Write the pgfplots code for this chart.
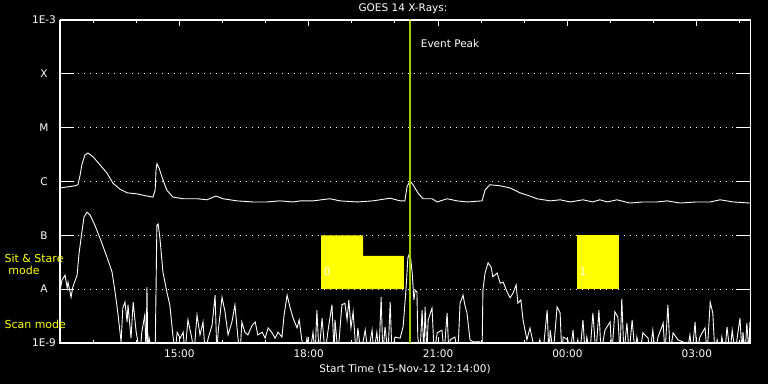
\documentclass[border=0pt]{standalone}
\usepackage{fontspec}
\setmainfont{DejaVu Sans}
\usepackage{pgfplots}
\pgfplotsset{compat=1.18}
\definecolor{peak}{RGB}{155,205,0}
\definecolor{ylw}{RGB}{255,255,0}
\begin{document}
\begin{tikzpicture}
\fill[black] (0,0) rectangle (768bp,384bp);
\begin{axis}[
  scale only axis, width=690bp, height=323bp,
  at={(60bp,41bp)}, anchor=south west,
  xmin=12.2333, xmax=28.2333, ymin=-9, ymax=-3,
  axis line style={white, line width=1bp},
  xtick={15,18,21,24,27}, xticklabels={15:00,18:00,21:00,00:00,03:00},
  minor xtick={13,14,16,17,19,20,22,23,25,26,28},
  ytick={-9,-8,-7,-6,-5,-4,-3}, yticklabels={},
  tick align=inside,
  major tick length=6bp, minor tick length=3bp,
  tick style={white, line width=1bp},
  ymajorgrids, grid style={white, line width=1bp, dash pattern=on 1bp off 5bp},
  tick label style={white, font=\fontsize{10.5bp}{12bp}\selectfont},
  xticklabel style={yshift=-3bp},
  clip=true,
]
% Sit & Stare mode blocks
\addplot[fill=ylw, draw=none] coordinates {(18.29,-8) (18.29,-7) (19.26,-7) (19.26,-7.38) (20.21,-7.38) (20.21,-8)} --cycle;
\addplot[fill=ylw, draw=none] coordinates {(24.22,-8) (24.22,-7) (25.20,-7) (25.20,-8)} --cycle;
\node[white, font=\fontsize{10.5bp}{12bp}\selectfont] at (axis cs:18.43,-7.68) {0};
\node[white, font=\fontsize{10.5bp}{12bp}\selectfont] at (axis cs:24.36,-7.68) {1};
% long channel (1-8 A)
\addplot[white, line width=0.9bp] coordinates {
(12.23,-6.12) (12.58,-6.08) (12.65,-6.06) (12.70,-5.88) (12.74,-5.69) (12.81,-5.51) (12.88,-5.47)
(13.00,-5.54) (13.16,-5.69) (13.32,-5.84) (13.46,-6.03) (13.62,-6.14) (13.79,-6.21) (14.02,-6.23)
(14.25,-6.27) (14.39,-6.29) (14.44,-6.16) (14.46,-5.79) (14.48,-5.67) (14.53,-5.75) (14.60,-5.92)
(14.71,-6.16) (14.85,-6.29) (15.09,-6.32) (15.41,-6.32) (15.64,-6.34) (15.85,-6.27) (16.01,-6.32)
(16.34,-6.36) (16.71,-6.38) (17.03,-6.38) (17.33,-6.36) (17.64,-6.38) (17.80,-6.36) (18.10,-6.36)
(18.49,-6.32) (18.73,-6.36) (19.12,-6.38) (19.49,-6.36) (19.89,-6.31) (20.12,-6.36) (20.23,-6.36)
(20.28,-6.10) (20.35,-5.99) (20.42,-6.06) (20.53,-6.21) (20.65,-6.32) (20.86,-6.32) (20.98,-6.38)
(21.21,-6.32) (21.44,-6.36) (21.67,-6.38) (22.02,-6.36) (22.09,-6.16) (22.20,-6.06) (22.44,-6.08)
(22.67,-6.12) (22.90,-6.21) (23.13,-6.27) (23.29,-6.32) (23.60,-6.36) (23.83,-6.34) (24.06,-6.38)
(24.36,-6.34) (24.59,-6.38) (24.75,-6.34) (24.92,-6.38) (25.15,-6.34) (25.45,-6.40) (25.75,-6.38)
(26.08,-6.38) (26.31,-6.36) (26.61,-6.40) (27.00,-6.38) (27.31,-6.38) (27.54,-6.34) (27.84,-6.38)
(28.23,-6.40)
};
% short channel (0.5-4 A)
\addplot[white, line width=0.9bp] coordinates {
(12.23,-8.05) (12.28,-7.83) (12.35,-7.74) (12.40,-7.98) (12.42,-7.87) (12.49,-8.15) (12.53,-7.96)
(12.63,-7.74) (12.67,-7.37) (12.74,-6.94) (12.79,-6.66) (12.86,-6.57) (12.93,-6.62) (13.04,-6.81)
(13.16,-7.05) (13.32,-7.40) (13.44,-7.68) (13.51,-8.05) (13.55,-8.29) (13.58,-8.48) (13.65,-8.98)
(13.69,-8.35) (13.74,-8.24) (13.79,-8.61) (13.81,-8.29) (13.88,-8.91) (13.93,-8.24) (14.00,-8.80)
(14.04,-8.98) (14.09,-9.2) (14.13,-8.80) (14.20,-8.48) (14.23,-9.2) (14.25,-7.96) (14.27,-9.2)
(14.30,-8.91) (14.37,-9.2) (14.44,-9.2) (14.48,-6.81) (14.51,-6.79) (14.55,-7.05) (14.62,-7.68)
(14.71,-8.05) (14.78,-8.29) (14.85,-8.85) (14.90,-9.2) (14.95,-8.80) (15.02,-8.91) (15.09,-8.80)
(15.13,-9.2) (15.20,-8.57) (15.29,-8.91) (15.34,-9.2) (15.41,-8.48) (15.48,-8.85) (15.55,-8.61)
(15.60,-9.2) (15.67,-8.91) (15.76,-8.67) (15.83,-8.11) (15.87,-9.2) (15.90,-8.80) (15.99,-8.15)
(16.06,-8.42) (16.13,-8.85) (16.22,-8.61) (16.29,-8.29) (16.36,-8.91) (16.41,-9.2) (16.45,-8.61)
(16.52,-8.80) (16.59,-8.85) (16.69,-8.67) (16.76,-8.61) (16.82,-8.85) (16.92,-8.80) (16.99,-8.91)
(17.06,-8.72) (17.15,-8.81) (17.22,-8.91) (17.29,-8.80) (17.38,-8.89) (17.43,-8.48) (17.50,-8.11)
(17.57,-8.35) (17.64,-8.54) (17.73,-8.72) (17.78,-8.57) (17.84,-8.94) (17.91,-9.2) (17.96,-8.91)
(18.03,-9.2) (18.10,-8.80) (18.15,-9.2) (18.19,-8.39) (18.24,-9.2) (18.31,-8.54) (18.38,-9.2)
(18.45,-8.76) (18.54,-8.29) (18.59,-9.2) (18.61,-8.57) (18.68,-9.2) (18.77,-8.29) (18.84,-8.26)
(18.89,-8.57) (18.93,-8.20) (18.98,-8.72) (19.03,-8.42) (19.10,-9.2) (19.14,-8.72) (19.21,-9.2)
(19.31,-8.76) (19.38,-9.2) (19.47,-8.76) (19.51,-9.2) (19.58,-8.80) (19.63,-9.2) (19.68,-8.15)
(19.72,-9.2) (19.77,-8.70) (19.84,-9.2) (19.89,-8.24) (19.93,-9.2) (20.00,-8.89) (20.12,-8.91)
(20.19,-8.70) (20.26,-7.96) (20.30,-7.42) (20.35,-7.31) (20.40,-7.70) (20.44,-8.20) (20.47,-8.02)
(20.51,-8.05) (20.53,-8.89) (20.58,-9.2) (20.63,-8.39) (20.67,-9.2) (20.70,-8.33) (20.74,-9.2)
(20.77,-8.57) (20.86,-8.35) (20.91,-9.2) (20.98,-8.81) (21.09,-8.76) (21.14,-9.2) (21.21,-8.44)
(21.25,-9.2) (21.28,-8.94) (21.39,-8.89) (21.46,-9.2) (21.51,-8.26) (21.58,-8.11) (21.62,-8.29)
(21.67,-8.44) (21.74,-8.94) (21.81,-8.98) (21.97,-8.98) (22.02,-9.2) (22.04,-8.02) (22.09,-7.70)
(22.16,-7.51) (22.23,-7.59) (22.27,-7.77) (22.37,-7.70) (22.44,-7.89) (22.51,-7.87) (22.60,-8.05)
(22.67,-8.16) (22.74,-8.07) (22.81,-7.92) (22.85,-8.26) (22.92,-8.20) (22.97,-8.57) (23.06,-8.94)
(23.13,-8.72) (23.20,-8.98) (23.27,-9.2) (23.36,-8.94) (23.43,-9.2) (23.53,-8.39) (23.57,-9.2)
(23.60,-8.76) (23.67,-9.2) (23.76,-8.33) (23.83,-8.44) (23.87,-9.2) (23.90,-8.89) (24.01,-8.94)
(24.06,-9.2) (24.13,-8.76) (24.17,-9.2) (24.24,-8.94) (24.29,-9.2) (24.36,-8.57) (24.41,-9.2)
(24.45,-8.89) (24.52,-9.2) (24.59,-8.44) (24.66,-9.2) (24.73,-8.39) (24.78,-9.2) (24.87,-8.76)
(24.99,-8.61) (25.03,-9.2) (25.10,-8.42) (25.17,-8.52) (25.22,-9.2) (25.26,-8.18) (25.31,-9.2)
(25.38,-8.63) (25.43,-9.2) (25.50,-8.57) (25.57,-9.2) (25.61,-8.89) (25.68,-9.2) (25.75,-8.81)
(25.87,-8.91) (25.91,-9.2) (25.98,-8.76) (26.03,-9.2) (26.10,-8.89) (26.22,-8.63) (26.26,-9.2)
(26.33,-8.29) (26.38,-9.2) (26.45,-8.81) (26.56,-8.94) (26.68,-8.98) (26.77,-9.2) (26.84,-8.85)
(26.89,-9.2) (26.96,-8.61) (27.00,-9.2) (27.07,-8.89) (27.19,-8.72) (27.24,-9.2) (27.31,-8.24)
(27.37,-8.44) (27.42,-9.2) (27.47,-8.94) (27.54,-9.2) (27.58,-8.89) (27.65,-9.2) (27.70,-8.70)
(27.77,-9.2) (27.82,-8.76) (27.89,-9.2) (27.93,-8.94) (28.00,-8.54) (28.05,-9.2) (28.07,-8.80)
(28.12,-9.2) (28.16,-8.63) (28.21,-9.2) (28.23,-8.61)
};
% event peak
\addplot[peak, line width=2bp] coordinates {(20.35,-9.5) (20.35,-2.5)};
\node[white, anchor=west, font=\fontsize{10.5bp}{12bp}\selectfont] at (axis cs:20.52,-3.43) {Event Peak};
\end{axis}
% second axis: long y ticks and their labels
\begin{axis}[
  scale only axis, width=690bp, height=323bp,
  at={(60bp,41bp)}, anchor=south west,
  xmin=12.2333, xmax=28.2333, ymin=-9, ymax=-3,
  axis line style={white, line width=1bp},
  xtick=\empty,
  ytick={-9,-8,-7,-6,-5,-4,-3}, yticklabels={1E-9,A,B,C,M,X,1E-3},
  tick align=inside, major tick length=14bp,
  tick style={white, line width=1bp},
  tick label style={white, font=\fontsize{10.5bp}{12bp}\selectfont},
  yticklabel style={anchor=center, xshift=-16bp},
]
\end{axis}
\node[white, font=\fontsize{10.5bp}{12bp}\selectfont] at (403bp,375bp) {GOES 14 X-Rays:};
\node[white, font=\fontsize{10.5bp}{12bp}\selectfont] at (405bp,15bp) {Start Time (15-Nov-12 12:14:00)};
\node[ylw, anchor=west, font=\fontsize{11bp}{12bp}\selectfont] at (1bp,126bp) {Sit \& Stare};
\node[ylw, font=\fontsize{11bp}{12bp}\selectfont] at (24bp,114bp) {mode};
\node[ylw, anchor=west, font=\fontsize{11bp}{12bp}\selectfont] at (1bp,60bp) {Scan mode};
\pgfresetboundingbox
\path[use as bounding box] (0,0) rectangle (768bp,384bp);
\end{tikzpicture}
\end{document}
